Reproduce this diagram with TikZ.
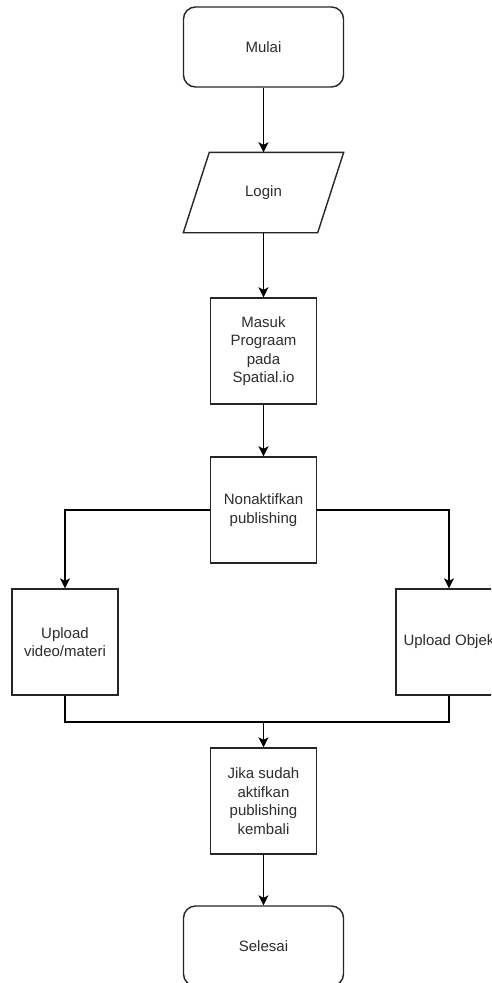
\documentclass[tikz,border=0pt]{standalone}
\usepackage{fontspec}
\setmainfont{Liberation Sans}
\usetikzlibrary{arrows.meta,calc}
\definecolor{txt}{RGB}{45,45,45}
\begin{document}
\begin{tikzpicture}[x=1pt,y=-1pt,
  base/.style={line width=1.4pt,draw=black!85,text=txt,font=\fontsize{15}{18.5}\selectfont,align=center,inner sep=0pt},
  term/.style={base,rounded corners=12pt,minimum width=160pt,minimum height=80pt},
  proc/.style={base,minimum width=106pt,minimum height=106pt},
  conn/.style={line width=1.4pt,draw=black},
  arr/.style={conn,-{Stealth[length=10pt,width=10pt,inset=2.5pt]}}]
\clip (0,0) rectangle (491,983);
\fill[white] (0,0) rectangle (491,983);
\node[term] (mulai) at (263.5,47) {Mulai};
\node[base,draw=none,minimum width=159pt,minimum height=79pt] (login) at (263.5,192.5) {Login};
\draw[line width=1.4pt,draw=black!85] ([xshift=26pt]login.north west) -- (login.north east) -- ([xshift=-26pt]login.south east) -- (login.south west) -- cycle;
\node[proc] (masuk) at (263.5,351) {Masuk\\Prograam\\pada\\Spatial.io};
\node[proc] (nonak) at (263.5,510) {Nonaktifkan\\publishing};
\node[proc] (upvid) at (65,642) {Upload\\video/materi};
\node[proc] (upobj) at (449,642) {Upload Objek};
\node[proc] (jika) at (263.5,801) {Jika sudah\\aktifkan\\publishing\\kembali};
\node[term] (selesai) at (263.5,946) {Selesai};
\coordinate (merge) at (263.5,722);
\draw[arr] (mulai) -- (login);
\draw[arr] (login) -- (masuk);
\draw[arr] (masuk) -- (nonak);
\draw[arr] (nonak.west) -| (upvid.north);
\draw[arr] (nonak.east) -| (upobj.north);
\draw[conn] (upvid.south) |- (merge) -| (upobj.south);
\draw[arr] (merge) -- (jika);
\draw[arr] (jika) -- (selesai);
\end{tikzpicture}
\end{document}
